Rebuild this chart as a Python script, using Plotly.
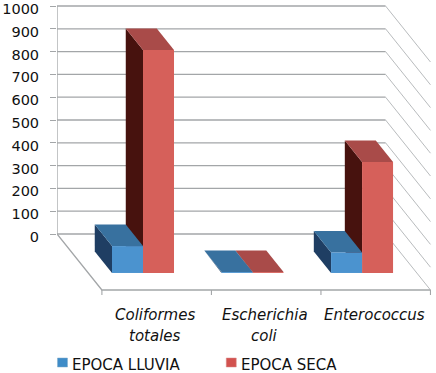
import plotly.graph_objects as go

# ---- data ----
categories = [["Coliformes", "totales"], ["Escherichia", "coli"], ["Enterococcus"]]
series_names = ["EPOCA LLUVIA", "EPOCA SECA"]
epoca_lluvia = [118, 4, 90]
epoca_seca = [978, 4, 487]
y_ticks = [0, 100, 200, 300, 400, 500, 600, 700, 800, 900, 1000]

# ---- styling / oblique projection parameters ----
W, H = 436, 373
ML, MT = 56.5, 0
FONT = "DejaVu Sans"
FLOOR = 245.6          # depth of the floor, in value units
SHEAR = 0.41           # depth of the floor, in category units
N = len(categories)
GRID = "#a3a6a8"
FACES = [
    {"front": "#4b93cf", "top": "#38719f", "side": "#1f3e63"},
    {"front": "#d6605a", "top": "#a94b49", "side": "#47120e"},
]
SWATCH = ["#3f8cc8", "#d2524f"]
BAR_W, D0, D1 = 0.283, 0.304, 0.688
PH = H - MT

def proj(c, d, v):
    return c - SHEAR * d, v - FLOOR * (1 - d)

def py(pixel):
    return (H - pixel) / PH

def px(pixel):
    return (pixel - ML) / (W - ML)

fig = go.Figure()

def poly(points, color, width=0, lcolor=None):
    xs, ys = zip(*points)
    fig.add_trace(go.Scatter(
        x=list(xs), y=list(ys), mode="lines", cliponaxis=False,
        fill="toself" if width == 0 else None,
        fillcolor=color if width == 0 else None,
        line=dict(width=width, color=lcolor or color),
        hoverinfo="skip", showlegend=False))

# gridlines: back wall and right wall
for i, v in enumerate(y_ticks):
    poly([proj(0, 1, v), proj(N, 1, v)], GRID, 1.3)
    poly([proj(N, 1, v), proj(N, 0, v)], "#b0b3b5", 0.9)

# left wall edge, floor outline and category ticks
poly([proj(0, 1, max(y_ticks)), proj(0, 1, 0), proj(0, 0, 0), proj(N, 0, 0)], GRID, 1.3)
for c in range(N + 1):
    x0, y0 = proj(c, 0, 0)
    poly([(x0, y0), (x0, y0 - 22)], GRID, 1.1)

def bar(c0, value, faces):
    c1 = c0 + BAR_W
    poly([proj(c0, D0, 0), proj(c0, D1, 0), proj(c0, D1, value), proj(c0, D0, value)], faces["side"])
    poly([proj(c0, D0, value), proj(c0, D1, value), proj(c1, D1, value), proj(c1, D0, value)], faces["top"])
    poly([proj(c0, D0, 0), proj(c1, D0, 0), proj(c1, D0, value), proj(c0, D0, value)], faces["front"])

for i in range(N):
    bar(i + 0.5, epoca_seca[i], FACES[1])
    bar(i + 0.5 - BAR_W, epoca_lluvia[i], FACES[0])

# category labels
annotations = []
for i, lines in enumerate(categories):
    for j, line in enumerate(lines):
        annotations.append(dict(
            x=i + 0.5 - 0.014, xref="x", y=py(315 + 21 * j), yref="paper",
            text=f"<i>{line}</i>", showarrow=False, xanchor="center", yanchor="middle",
            font=dict(family=FONT, size=15, color="#111111")))

# legend
shapes = []
for name, x0, col in zip(series_names, [57, 226], SWATCH):
    shapes.append(dict(type="rect", xref="paper", yref="paper",
                       x0=px(x0), x1=px(x0 + 10), y0=py(367), y1=py(358),
                       fillcolor=col, line=dict(width=0.5, color="#7fa8c8" if col == SWATCH[0] else "#d98a88")))
    annotations.append(dict(
        x=px(x0 + 13), xref="paper", y=py(364.5), yref="paper",
        text=name, showarrow=False, xanchor="left", yanchor="middle",
        font=dict(family=FONT, size=15, color="#111111")))

px_per_cat = (430 - 101) / N
fig.update_layout(
    width=W, height=H, autosize=False,
    margin=dict(l=ML, r=0, t=MT, b=0, autoexpand=False),
    paper_bgcolor="white", plot_bgcolor="white",
    showlegend=False,
    annotations=annotations, shapes=shapes,
    xaxis=dict(range=[-SHEAR, -SHEAR + (W - ML) / px_per_cat], visible=False, fixedrange=True),
    yaxis=dict(range=[(234 - H) / 0.228, (234 - MT) / 0.228], tickmode="array", tickvals=y_ticks,
               ticktext=[str(v) for v in y_ticks], showgrid=False, zeroline=False, showline=False,
               automargin=False,
               ticks="outside", ticklen=6, tickcolor=GRID, tickwidth=1.2, fixedrange=True,
               ticklabelstandoff=8, ticklabeloverflow="allow", ticklabelshift=3,
               tickfont=dict(family=FONT, size=14.5, color="#111111")),
)
fig.write_html("out.html", config={"displayModeBar": False},
               post_script="document.body.style.margin='0';document.body.style.overflow='hidden';")
